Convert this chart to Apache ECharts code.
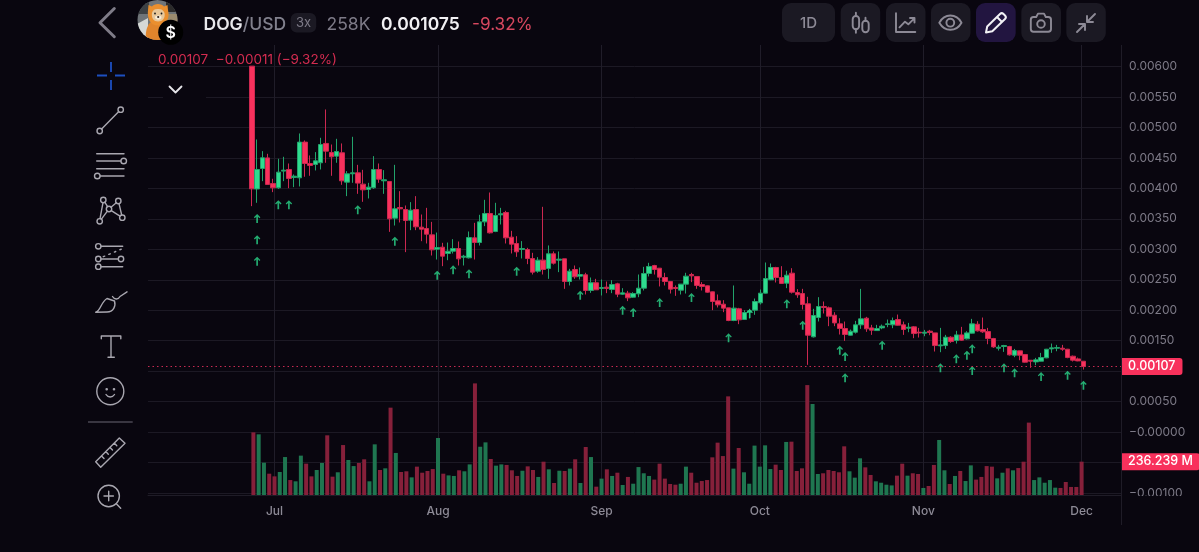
<!DOCTYPE html>
<html lang="en">
<head>
    <meta charset="UTF-8">
    <title>DOG/USD</title>
    <script src="https://cdn.jsdelivr.net/npm/echarts@6/dist/echarts.min.js"></script>
    <style>
        html, body {
            margin: 0;
            width: 1199px;
            height: 552px;
            overflow: hidden;
            background-color: #09060f;
        }
        #chart {
            position: absolute;
            left: 0;
            top: 0;
            width: 1199px;
            height: 552px;
        }
        #chrome {
            position: absolute;
            left: 0;
            top: 0;
            pointer-events: none;
            font-family: Inter, sans-serif;
        }
        .ico { fill: none; stroke: #a9a7b0; stroke-width: 1.4; stroke-linecap: round; stroke-linejoin: round; }
        .top { fill: none; stroke: #8d8a96; stroke-width: 1.9; stroke-linecap: round; stroke-linejoin: round; }
        .btn { fill: #1b1923; }
    </style>
</head>
<body>
    <div id="chart"></div>

    <!-- app header and drawing toolbar around the chart -->
    <svg id="chrome" width="1199" height="552" viewBox="0 0 1199 552">
        <defs>
            <clipPath id="avatarClip"><circle cx="157.5" cy="20" r="20"/></clipPath>
        </defs>

        <!-- frame: price scale edge, cuts the last tick label like the app does -->
        <rect x="1122" y="496" width="77" height="56" fill="#09060f"/>
        <line x1="1121.5" y1="45" x2="1121.5" y2="525" stroke="#1f1c27"/>
        <rect x="163" y="80" width="43" height="24" fill="#09060f"/>
        <path d="M169.5 86.5 L175.5 92.5 L181.5 86.5" fill="none" stroke="#e6e5ea" stroke-width="1.8" stroke-linecap="round" stroke-linejoin="round"/>

        <!-- header -->
        <path d="M114.3 8.5 L100 22.7 L114.3 36.7" fill="none" stroke="#7f7c88" stroke-width="3" stroke-linecap="round" stroke-linejoin="round"/>
        <g clip-path="url(#avatarClip)">
            <rect x="137" y="0" width="41" height="41" fill="#6f7478"/>
            <rect x="137" y="0" width="12" height="14" fill="#3d4144"/>
            <rect x="166" y="0" width="12" height="12" fill="#2b2a2a"/>
            <path d="M137 24 L148 18 L148 41 L137 41 Z" fill="#d5d8d6"/>
            <path d="M165 14 L178 14 L178 30 L165 30 Z" fill="#9a8a6e"/>
            <path d="M146 41 C145 32 147 25 151 22 L163 22 C166 26 168 33 165 41 Z" fill="#e0852c"/>
            <path d="M148 10 L148.5 5 L152 6.5 C154 3 162 3 164 6.5 L167.5 5 L168 10 C170 18 167 25 158 25.5 C150 25.5 147 18 148 10 Z" fill="#ea8f2e"/>
            <path d="M152 13 C153 9.5 155 9 158 9 C161 9 163 9.5 164.5 13 C165.5 18 162.5 21.5 158 21.5 C154 21.5 151 18 152 13 Z" fill="#e7c79b"/>
            <path d="M155 17 C156 15 160.5 15 161.5 17 C161.5 20.5 155 20.5 155 17 Z" fill="#f4ead9"/>
            <circle cx="155" cy="13.5" r="0.9" fill="#1a1a1a"/>
            <circle cx="161.5" cy="13.5" r="0.9" fill="#1a1a1a"/>
            <circle cx="158.2" cy="17" r="1.1" fill="#2a1f1a"/>
        </g>
        <circle cx="170.7" cy="32.3" r="12.5" fill="#000"/>
        <text x="170.7" y="38" text-anchor="middle" font-size="16" font-weight="600" fill="#fff">$</text>

        <text y="29.5" font-size="17.5" font-weight="600" fill="#e9e8ec"><tspan x="203.5">DOG</tspan><tspan fill="#81808d" font-weight="500">/USD</tspan></text>
        <rect x="290.7" y="13" width="25.5" height="19.5" rx="6" fill="#1b1923"/>
        <text x="303.5" y="27.3" text-anchor="middle" font-size="13" fill="#7d7a87">3x</text>
        <text x="326.5" y="29.5" font-size="17.5" fill="#7d7a87">258K</text>
        <text x="381" y="29.5" font-size="17.5" font-weight="600" fill="#f1f0f3">0.001075</text>
        <text x="472" y="29.5" font-size="17.2" fill="#d8485f">-9.32%</text>
        <text x="158" y="64" font-size="13.5" fill="#d42c50" xml:space="preserve">0.00107  −0.00011 (−9.32%)</text>

        <!-- header buttons -->
        <rect class="btn" x="782" y="3" width="53" height="39" rx="9"/>
        <rect class="btn" x="840.7" y="3" width="39.5" height="39" rx="9"/>
        <rect class="btn" x="886" y="3" width="39.5" height="39" rx="9"/>
        <rect class="btn" x="931" y="3" width="39.5" height="39" rx="9"/>
        <rect x="976" y="3" width="39.7" height="39" rx="9" fill="#221540"/>
        <rect class="btn" x="1021.3" y="3" width="39.7" height="39" rx="9"/>
        <rect class="btn" x="1066.3" y="3" width="39.5" height="39" rx="9"/>
        <text x="808.5" y="28.3" text-anchor="middle" font-size="15" font-weight="500" fill="#8d8a96">1D</text>
        <g class="top">
            <rect x="852.7" y="16" width="6.4" height="13.3" rx="3.2"/>
            <path d="M855.9 12.7 V16 M855.9 29.3 V32.7"/>
            <rect x="862.3" y="20.7" width="6.4" height="11.6" rx="3.2"/>
            <path d="M865.5 17.8 V20.7"/>
            <path d="M896 13.3 V32 H915.3"/>
            <path d="M899.5 27.3 L905 21.7 L908.3 24.3 L914.3 18.3 M910 18 H914.5 V22.5"/>
            <path d="M939.3 22.7 C943 16 947 15.5 950.3 15.5 C954 15.5 958 16 961.5 22.7 C958 29 954 29.8 950.3 29.8 C947 29.8 943 29 939.3 22.7 Z"/>
            <circle cx="950.3" cy="22.7" r="3.9"/>
            <path d="M1033.5 17 H1036.2 L1038 13.6 H1044 L1045.8 17 H1048.2 C1050 17 1051 18 1051 19.8 V29 C1051 30.8 1050 31.7 1048.2 31.7 H1033.5 C1031.7 31.7 1030.8 30.8 1030.8 29 V19.8 C1030.8 18 1031.7 17 1033.5 17 Z"/>
            <circle cx="1041" cy="24" r="3.8"/>
            <path d="M1095 14 L1087 22 M1087 16 V22 H1093"/>
            <path d="M1077 32 L1085 24 M1079 24 H1085 V30"/>
        </g>
        <path d="M986 32.5 L987.2 26.5 L1000 14 C1001 13 1002.5 13 1003.5 14 L1005 15.5 C1006 16.5 1006 18 1005 19 L992.3 31.3 Z M997 17 L1002 22" fill="none" stroke="#f2f1f5" stroke-width="2" stroke-linecap="round" stroke-linejoin="round"/>

        <!-- drawing tools -->
        <path d="M97 75.5 H107 M115 75.5 H125 M111 62 V72 M111 80 V90" fill="none" stroke="#1d4fc0" stroke-width="1.8"/>
        <g class="ico">
            <circle cx="120.7" cy="109.7" r="2.7"/>
            <circle cx="99.7" cy="131" r="2.7"/>
            <path d="M101.6 129 L118.8 111.6"/>
            <path d="M96.7 153.7 H124 M96.7 161 H120.8 M96.7 168.7 H124 M100.3 176 H124"/>
            <circle cx="123.7" cy="161" r="2.8"/>
            <circle cx="97.3" cy="176" r="2.8"/>
            <circle cx="103.3" cy="200" r="2.7"/>
            <circle cx="118.3" cy="201" r="2.7"/>
            <circle cx="109" cy="209" r="2.7"/>
            <circle cx="122.3" cy="217.7" r="2.7"/>
            <circle cx="99.7" cy="221.3" r="2.7"/>
            <path d="M103 202.7 L100 218.6 M104.8 202.2 L107.6 206.7 M107.4 211.2 L101.4 219.2 M111 207.2 L116.3 202.8 M119 203.7 L121.7 215 M111.3 210.6 L120 216.2"/>
            <circle cx="98.3" cy="246.3" r="2.7"/>
            <circle cx="98.3" cy="259" r="2.7"/>
            <circle cx="121" cy="259" r="2.7"/>
            <circle cx="98.3" cy="266.7" r="2.7"/>
            <path d="M101 246.3 H122.7 M101 259 H118.3 M101 266.7 H122.7"/>
            <path d="M103.3 256.7 L121.7 249" stroke-dasharray="1.5 4.5"/>
            <path d="M95.7 312.3 C100.5 311 101 302 107 298.5 L114.5 301 C116 306 113.5 312 107 312 Z"/>
            <path d="M112.5 296.5 C114.5 300 118.5 299.5 120 296.5 L127 291.8"/>
            <path d="M101.3 338.8 V336 H120.8 V338.8 M111 336 V357.3 M108 357.3 H114.3"/>
            <circle cx="110.3" cy="391.3" r="13.5"/>
            <circle cx="106.7" cy="389.3" r="0.6"/>
            <circle cx="114" cy="389.3" r="0.6"/>
            <path d="M106 394.5 C108 397.8 112.5 397.8 114.5 394.5"/>
            <path d="M95.7 461.7 L119.3 438 L125 443.3 L100.7 467.3 Z M101.5 456 L104 458.6 M105.8 451.6 L108.3 454.2 M110 447.4 L112.5 450 M114.3 443.1 L116.8 445.7"/>
            <circle cx="108.7" cy="496" r="10.7"/>
            <path d="M104 496 H113.4 M108.7 491.3 V500.7 M116.3 503.8 L120.7 508.3"/>
        </g>
        <line x1="88" y1="422" x2="132.7" y2="422" stroke="#4a4753" stroke-width="1.6"/>
    </svg>

    <script>
        const FIRST_DAY = Date.UTC(2024, 5, 27);
        const DAY = 86400000;
        const PRICE_UNIT = 0.00001;
        const MONTHS = ['Jan', 'Feb', 'Mar', 'Apr', 'May', 'Jun', 'Jul', 'Aug', 'Sep', 'Oct', 'Nov', 'Dec'];

        const opens = [
            600.6, 399, 432.6, 450, 408, 400.9, 428.3, 431, 417.9, 417.3,
            475.9, 440.8, 439.2, 442, 473.7, 458.9, 452.9, 458.4, 410.2, 423.9,
            425.5, 406.9, 398.2, 400.9, 431, 412.4, 411.3, 351.1, 368.6, 365.3,
            347.8, 365.3, 336.3, 334.1, 323.7, 300.2, 303.5, 293.1, 296.9, 301.3,
            287, 286, 318.8, 311.1, 345, 358.7, 329.2, 356.6, 360.4, 319.9,
            309.5, 299.7, 299.7, 284.9, 264.1, 282.2, 268.5, 292.6, 282.2, 284.4,
            247.1, 266.8, 255.9, 258.1, 232.4, 245, 235.7, 237.8, 234, 243.3,
            226.3, 228, 221.4, 226.9, 236.2, 260.3, 273.4, 269, 253.7, 247.1,
            237.3, 232.9, 242.8, 258.6, 255.4, 242.2, 240, 230.2, 215.4, 209.9,
            203.9, 183.1, 202.3, 184.8, 196.8, 200.1, 212.1, 228, 249.9, 270.1,
            253.7, 244.4, 260.8, 229, 227.4, 210.5, 156.3, 188, 206, 203.9,
            191.8, 177.6, 170, 159, 163.9, 176, 186.9, 171, 166.6, 171,
            176.5, 176, 184.7, 176, 170.5, 172.7, 163.9, 162.3, 165.6, 162.8,
            141.5, 142, 155.7, 150.2, 159.5, 153, 162.3, 177, 168.3, 165,
            153.5, 137.6, 140.4, 140.4, 126.1, 133.3, 127.2, 117.9, 115.2, 116.3,
            121.8, 136.5, 137.6, 137.6, 136, 124.5, 120.1, 116.3
        ];
        const closes = [
            399.2, 431, 450.2, 406.4, 400.9, 426.6, 429.9, 416.2, 420, 475.9,
            440.8, 437.6, 445.2, 472, 461.1, 451.8, 460.5, 412.4, 423.9, 425.5,
            408.6, 397.6, 402, 431, 415.1, 414, 350, 366.4, 366.4, 347.2,
            364.2, 336.9, 333, 324.8, 299.1, 302.9, 288.7, 296.9, 301.3, 284.3,
            288.7, 319.3, 311.1, 345, 358.7, 327, 355.5, 358.2, 318.8, 308.4,
            295.8, 301.3, 284.9, 262.5, 282.2, 266.8, 292.6, 277.2, 283.8, 247.1,
            264.1, 254.8, 258.6, 232.4, 245, 233.5, 237.3, 235.7, 242.2, 226.3,
            228.5, 220.3, 227.4, 236.2, 260.3, 271.8, 266.8, 254.3, 247.1, 234.6,
            235.7, 242.8, 255.9, 256.4, 240.6, 239, 229.6, 214.3, 208.8, 203.4,
            183.1, 203.4, 184.2, 196.2, 199, 214.3, 228, 252, 270.1, 253.7,
            243.9, 257.5, 229.6, 225.3, 209.4, 159, 191.3, 206.1, 204.4, 190.2,
            179.2, 170, 160.1, 165.6, 176, 185.8, 169.4, 167.2, 170, 173.8,
            177.6, 183, 175.4, 168.3, 172.1, 161.7, 162.8, 163.9, 163.4, 142,
            143.1, 155.7, 148.6, 159.5, 150.8, 162.8, 177.6, 166.1, 164.5, 153.5,
            139.8, 139.3, 142, 126.7, 133.8, 126.1, 114.7, 116.3, 118.5, 122.3,
            136, 138.2, 138.7, 136, 122.3, 118, 116.8, 107.5
        ];
        const lows = [
            370.8, 376.3, 411.8, 406.4, 393.8, 399.2, 411.8, 400.3, 402, 403.1,
            419, 420.6, 429.4, 431, 442, 420.6, 442, 405.8, 387.2, 409.1,
            391, 377.9, 383.4, 399.2, 409.1, 391, 328.6, 339, 344, 295.3,
            331.4, 331.4, 313.3, 309.5, 289.8, 283.2, 272.3, 282.1, 293.1, 273.4,
            273.4, 284.9, 283.2, 306.2, 338, 325.9, 328.1, 340.7, 309.5, 293.1,
            287.6, 284.9, 275.6, 258.6, 261.4, 258.6, 251.5, 275, 262.5, 235.1,
            240.6, 251.5, 250.4, 225.8, 228.5, 233.5, 224.2, 228, 228, 221.4,
            225.3, 214.9, 220.3, 221.4, 232.4, 255.4, 258.6, 239, 240.6, 227.4,
            223.6, 225.8, 227.4, 246.1, 235.1, 232.4, 228.5, 200.1, 204.5, 196.8,
            182, 182, 177.1, 184.2, 186.4, 192.4, 209.4, 227.4, 249.3, 245.5,
            243.3, 236.2, 227.4, 220.3, 201.2, 110.3, 155.2, 181.5, 194.6, 173.8,
            173.8, 160.1, 149.7, 158.4, 161.7, 169.4, 164.5, 159.5, 166.1, 168.8,
            172.1, 170.5, 174.9, 159.5, 163.9, 154.1, 155.2, 157.3, 159, 132.2,
            131.1, 136.5, 146.4, 145.3, 149.7, 151.9, 161.7, 165, 162.8, 144.2,
            138.2, 133.8, 131.6, 125.6, 122.9, 117.9, 114.1, 105.4, 109.7, 115.8,
            121.2, 130, 132.7, 133.3, 121.2, 115.8, 116.3, 102.6
        ];
        const highs = [
            600.6, 480.2, 461.1, 456.7, 415.7, 448.5, 451.8, 440.8, 422.8, 490.1,
            478.6, 454, 459.5, 483, 529.5, 472, 481.3, 473.7, 428.3, 484.6,
            438.6, 430.4, 409.1, 452.9, 440.8, 429.9, 411.3, 438.6, 395.4, 371.9,
            377.4, 387.2, 357.1, 368, 345, 327.5, 310.6, 311.1, 316.6, 312.8,
            290.9, 329.2, 343.4, 356.6, 381.2, 393.2, 376.3, 368, 363.1, 330.3,
            321.5, 313.4, 302.4, 294.2, 287.1, 369.7, 306.3, 296.4, 296.4, 284.4,
            267.9, 273.4, 270.1, 261.4, 253.7, 251.5, 250.4, 247.1, 249.3, 245,
            236.2, 231.8, 229.6, 258.6, 271.2, 277.8, 274.5, 269, 261.4, 247.1,
            240.6, 242.8, 261.4, 261.4, 255.9, 246.1, 240.6, 230.7, 225.8, 216.5,
            203.9, 240.6, 203.9, 200.1, 202.3, 219.2, 234, 278.3, 276.7, 271.2,
            272.3, 264.7, 269, 234.6, 235.1, 222, 202.3, 221.4, 214.3, 206,
            196.7, 186.9, 181.4, 168.3, 182.5, 235, 189.1, 176, 176, 176.5,
            184.7, 188, 192.9, 181.4, 179.2, 173.8, 171, 167.7, 167.7, 162.8,
            171, 159.5, 157.3, 166.1, 172.7, 165.6, 185.8, 182, 188, 171,
            154.6, 143.1, 143.1, 141.5, 136.5, 133.8, 127.8, 117.9, 121.8, 130,
            136.5, 145.3, 143.1, 143.1, 136.5, 125.6, 122.3, 116.3
        ];
        // volume in millions
        const volumes = [
            444, 430, 229, 151, 132, 163, 269, 106, 97, 279,
            222, 132, 177, 227, 423, 130, 161, 354, 248, 205,
            227, 253, 97, 359, 177, 189, 619, 298, 163, 168,
            125, 201, 158, 170, 184, 404, 151, 139, 135, 175,
            168, 217, 791, 342, 373, 255, 208, 217, 213, 175,
            135, 172, 203, 177, 128, 236, 182, 85, 172, 170,
            187, 253, 85, 340, 269, 59, 116, 182, 135, 158,
            71, 128, 80, 198, 154, 135, 109, 222, 116, 78,
            73, 80, 201, 158, 87, 99, 106, 267, 371, 276,
            699, 187, 333, 161, 80, 350, 201, 352, 184, 215,
            177, 376, 378, 170, 189, 779, 645, 149, 154, 177,
            170, 161, 345, 168, 123, 260, 196, 142, 97, 87,
            73, 68, 137, 222, 137, 154, 149, 50, 64, 213,
            390, 175, 78, 135, 170, 99, 210, 109, 128, 205,
            201, 118, 158, 189, 175, 191, 236, 513, 106, 125,
            87, 106, 52, 50, 92, 57, 57, 236.239
        ];
        // green signal arrows: candle index and the price they float at
        const signalDays = [
            1, 1, 1, 5, 7, 20, 27, 35, 38, 41, 50, 62, 70, 72, 77, 83, 90, 94, 101, 104,
            111, 112, 112, 119, 130, 133, 135, 136, 136, 142, 144, 149, 154, 157
        ];
        const signalPrices = [
            350.6, 315.6, 280.5, 373.1, 373.1, 364.9, 313.3, 257.5, 266.3, 259.8, 264, 224.6, 200, 196.2, 212.6, 220.9, 154.7, 194.6, 210.5, 175.4,
            134.3, 124, 89, 142.5, 105.4, 120.2, 126.1, 136.6, 101, 105.4, 97.2, 91.1, 93.3, 76.8
        ];

        const UP = '#2fdc8f';
        const DOWN = '#f8315c';
        const UP_VOL = '#1f7650';
        const DOWN_VOL = '#86203a';
        const GRID_LINE = '#1c1924';
        const MUTED = '#7d7a87';
        const ARROW = 'path://M5 0 L10 5.2 L8.5 6.6 L6.3 4.2 L6.3 14 L3.7 14 L3.7 4.2 L1.5 6.6 L0 5.2 Z';

        const dayOf = i => FIRST_DAY + i * DAY;
        const candles = opens.map((o, i) => [
            dayOf(i), o * PRICE_UNIT, closes[i] * PRICE_UNIT, lows[i] * PRICE_UNIT, highs[i] * PRICE_UNIT
        ]);
        const lastClose = closes[closes.length - 1] * PRICE_UNIT;

        // axis runs a bit before the first candle and past the last one
        const xMin = Date.UTC(2024, 6, 1) - 23.6 * DAY;
        const xMax = xMin + 183.69 * DAY;

        function priceLabel(v) {
            const sign = v <= 0 ? '−' : '';
            return sign + Math.abs(v).toFixed(5);
        }

        function tagLabel(text) {
            return {
                show: true,
                position: 'end',
                distance: 0,
                opacity: 1,
                formatter: text,
                color: '#fff',
                backgroundColor: DOWN,
                fontFamily: 'Inter',
                fontSize: 12.5,
                fontWeight: 500,
                padding: [2, 7, 2, 7],
                borderRadius: [0, 3, 3, 0]
            };
        }

        const chart = echarts.init(document.getElementById('chart'));
        chart.setOption({
            animation: false,
            useUTC: true,
            backgroundColor: '#09060f',
            grid: [
                { left: 148, right: 78, top: 66.5, height: 426.5 },
                { left: 148, right: 78, top: 45, height: 450 }
            ],
            xAxis: [
                { type: 'time', gridIndex: 0, min: xMin, max: xMax, show: false },
                {
                    type: 'time',
                    gridIndex: 1,
                    min: xMin,
                    max: xMax,
                    minInterval: 28 * DAY,
                    axisLine: { show: true, lineStyle: { color: '#1f1c27' } },
                    axisTick: { show: false },
                    splitLine: {
                        show: true,
                        showMinLine: false,
                        showMaxLine: false,
                        lineStyle: { color: '#201d29' }
                    },
                    axisLabel: {
                        margin: 10,
                        color: '#8d8a96',
                        fontFamily: 'Inter',
                        fontSize: 12,
                        fontWeight: 500,
                        hideOverlap: false,
                        formatter: function(v) {
                            const d = new Date(v);
                            return d.getUTCDate() === 1 ? MONTHS[d.getUTCMonth()] : '';
                        }
                    }
                }
            ],
            yAxis: [
                {
                    type: 'value',
                    gridIndex: 0,
                    position: 'right',
                    min: -0.001,
                    max: 0.006,
                    interval: 0.0005,
                    axisLine: { show: false },
                    axisTick: { show: false },
                    splitLine: { lineStyle: { color: GRID_LINE } },
                    axisLabel: {
                        margin: 8,
                        color: MUTED,
                        fontFamily: 'Inter',
                        fontSize: 12,
                        formatter: priceLabel
                    }
                },
                { type: 'value', gridIndex: 1, min: 0, max: 3189, show: false }
            ],
            series: [
                {
                    name: 'Volume',
                    type: 'bar',
                    xAxisIndex: 1,
                    yAxisIndex: 1,
                    barWidth: 4,
                    data: volumes.map((v, i) => ({
                        value: [dayOf(i), v],
                        itemStyle: { color: closes[i] >= opens[i] ? UP_VOL : DOWN_VOL }
                    })),
                    markLine: {
                        silent: true,
                        symbol: 'none',
                        precision: 6,
                        lineStyle: { opacity: 0 },
                        label: tagLabel('236.239 M'),
                        data: [{ yAxis: volumes[volumes.length - 1] }]
                    }
                },
                {
                    name: 'DOG/USD',
                    type: 'candlestick',
                    xAxisIndex: 0,
                    yAxisIndex: 0,
                    barWidth: 5,
                    encode: { x: 0, y: [1, 2, 3, 4] },
                    data: candles,
                    itemStyle: {
                        color: UP,
                        color0: DOWN,
                        borderColor: '#22a36b',
                        borderColor0: '#cc2850',
                        borderWidth: 1
                    },
                    markLine: {
                        silent: true,
                        symbol: 'none',
                        precision: 6,
                        lineStyle: { color: '#c72a52', type: [1.5, 3], width: 1 },
                        label: tagLabel('0.00107'),
                        data: [{ yAxis: lastClose }]
                    }
                },
                {
                    name: 'Signals',
                    type: 'scatter',
                    xAxisIndex: 0,
                    yAxisIndex: 0,
                    symbol: ARROW,
                    symbolSize: [6.5, 9],
                    itemStyle: { color: '#2bd68a' },
                    data: signalDays.map((d, i) => [dayOf(d), signalPrices[i] * PRICE_UNIT])
                }
            ]
        });
    </script>
</body>
</html>
